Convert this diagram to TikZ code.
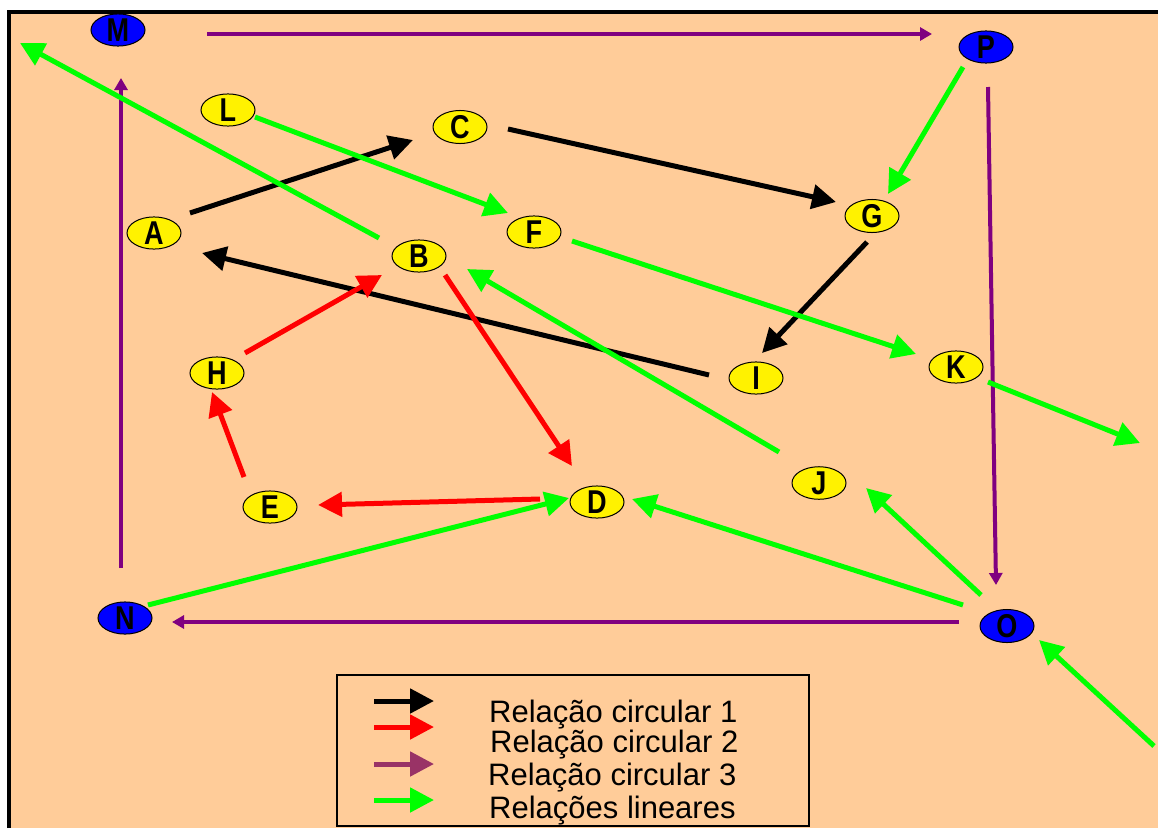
\documentclass[tikz,border=0pt]{standalone}
\usepackage{fontspec}
\usepackage{graphicx}
\setmainfont{Liberation Sans}
\usetikzlibrary{arrows.meta,shapes.geometric}

\definecolor{peach}{HTML}{FFCC99}
\definecolor{lime}{HTML}{00FF00}
\definecolor{plum}{HTML}{800080}
\definecolor{mauve}{HTML}{993366}

% narrow bold capitals inside the ellipses
\newcommand\nodeletter[1]{\scalebox{0.82}[1]{#1}}

\tikzset{
  vert/.style={ellipse, draw=black, line width=1pt, minimum width=54pt,
    minimum height=29pt, inner sep=0pt,
    font=\bfseries\fontsize{33}{33}\selectfont},
  yel/.style={vert, fill=yellow},
  blu/.style={vert, fill=blue},
  bighead/.style={-{Triangle[length=24pt,width=24pt]}},
  rel1/.style={line width=5pt, black, bighead},
  rel2/.style={line width=5pt, red, bighead},
  rel3/.style={line width=4pt, plum, -{Triangle[length=12pt,width=13pt]}},
  reln/.style={line width=5pt, lime, bighead},
  legtext/.style={anchor=base west, inner sep=0pt,
    font=\fontsize{31}{31}\selectfont},
}

\begin{document}
\begin{tikzpicture}[x=1pt,y=-1pt]
\useasboundingbox (0,0) rectangle (1158,828);
\fill[white] (0,0) rectangle (1158,828);
\fill[peach] (9,12) rectangle (1158,828);
\draw[line width=4pt] (9,828) -- (9,12) -- (1158,12);

% outer ring (blue)
\node[blu] (M) at (118,30)  {\nodeletter{M}};
\node[blu] (P) at (986,47)  {\nodeletter{P}};
\node[blu] (O) at (1007,626) {\nodeletter{O}};
\node[blu] (N) at (125,618) {\nodeletter{N}};

% inner nodes (yellow)
\node[yel] (L) at (228,110) {\nodeletter{L}};
\node[yel] (A) at (154,233) {\nodeletter{A}};
\node[yel] (B) at (419,256) {\nodeletter{B}};
\node[yel] (H) at (217,373) {\nodeletter{H}};
\node[yel] (C) at (460,127) {\nodeletter{C}};
\node[yel] (F) at (534,232) {\nodeletter{F}};
\node[yel] (G) at (872,216) {\nodeletter{G}};
\node[yel] (I) at (756,378) {\nodeletter{I}};
\node[yel] (K) at (956,367) {\nodeletter{K}};
\node[yel] (J) at (819,483) {\nodeletter{J}};
\node[yel] (E) at (270,507) {\nodeletter{E}};
\node[yel] (D) at (597,502) {\nodeletter{D}};

% free ends of the open arrows
\coordinate (TL) at (20,43);
\coordinate (KR) at (1140,443);
\coordinate (BR) at (1154,746);

% circular relation 1
\draw[rel1] ([shift={(36,-20)}]A.center) -- ([shift={(-47,13)}]C.center);
\draw[rel1] ([shift={(48,2)}]C.center) -- ([shift={(-36,-14)}]G.center);
\draw[rel1] ([shift={(-5,26)}]G.center) -- ([shift={(6,-25)}]I.center);
\draw[rel1] ([shift={(-47,-3)}]I.center) -- ([shift={(48,20)}]A.center);

% circular relation 2
\draw[rel2] ([shift={(28,-20)}]H.center) -- ([shift={(-37,19)}]B.center);
\draw[rel2] ([shift={(26,19)}]B.center) -- ([shift={(-25,-36)}]D.center);
\draw[rel2] ([shift={(-57,-3)}]D.center) -- ([shift={(48,-2)}]E.center);
\draw[rel2] ([shift={(-26,-30)}]E.center) -- ([shift={(-5,19)}]H.center);

% circular relation 3
\draw[rel3] ([shift={(89,4)}]M.center) -- ([shift={(-54,-13)}]P.center);
\draw[rel3] ([shift={(2,40)}]P.center) -- ([shift={(-11,-41)}]O.center);
\draw[rel3] ([shift={(-48,-4)}]O.center) -- ([shift={(47,4)}]N.center);
\draw[rel3] ([shift={(-4,-50)}]N.center) -- ([shift={(3,48)}]M.center);

% linear relations
\draw[reln] ([shift={(-40,-18)}]B.center) -- (TL);
\draw[reln] ([shift={(27,7)}]L.center) -- ([shift={(-26,-19)}]F.center);
\draw[reln] ([shift={(-23,20)}]P.center) -- ([shift={(16,-22)}]G.center);
\draw[reln] ([shift={(38,9)}]F.center) -- ([shift={(-40,-13)}]K.center);
\draw[reln] ([shift={(32,15)}]K.center) -- (KR);
\draw[reln] ([shift={(-40,-31)}]J.center) -- ([shift={(48,13)}]B.center);
\draw[reln] ([shift={(23,-13)}]N.center) -- ([shift={(-28,-4)}]D.center);
\draw[reln] ([shift={(-44,-21)}]O.center) -- ([shift={(35,-3)}]D.center);
\draw[reln] ([shift={(-26,-31)}]O.center) -- ([shift={(47,5)}]J.center);
\draw[reln] (BR) -- ([shift={(32,14)}]O.center);

% legend
\draw[line width=2pt] (337,675) rectangle (809,826);
\draw[rel1] (374,701) -- (434,701);
\draw[rel2] (374,727) -- (434,727);
\draw[line width=5pt, mauve, bighead] (374,764) -- (434,764);
\draw[reln] (374,800) -- (434,800);
\node[legtext] (t1) at (489,722) {Relação circular 1};
\node[legtext] (t2) at (490,752) {Relação circular 2};
\node[legtext] (t3) at (488,785) {Relação circular 3};
\node[legtext] (t4) at (489,818) {Relações lineares};
\end{tikzpicture}
\end{document}
